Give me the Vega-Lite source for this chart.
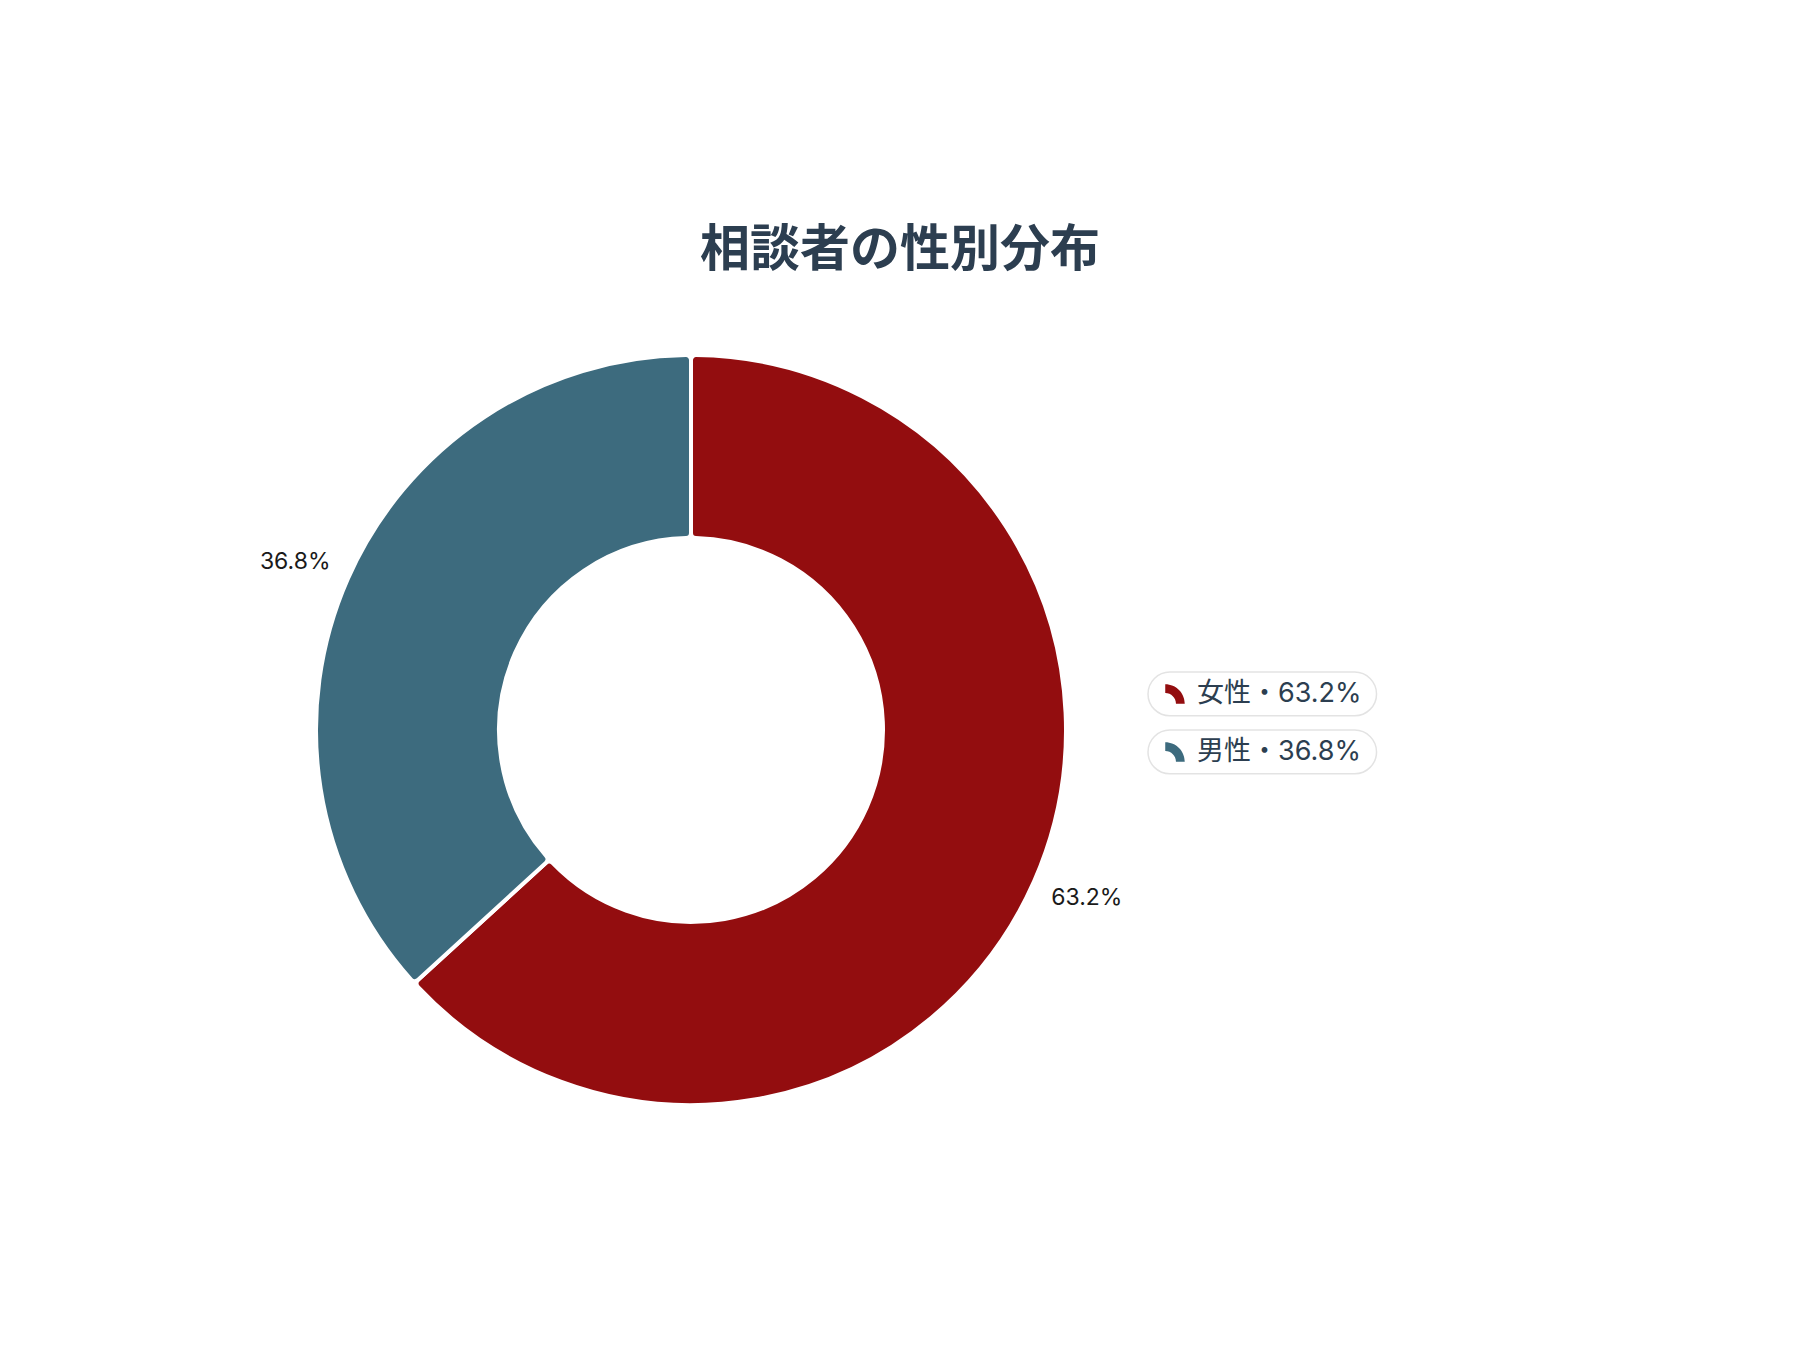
{
  "$schema": "https://vega.github.io/schema/vega-lite/v6.json",
  "autosize": {"type": "none"},
  "width": 800,
  "height": 896,
  "padding": {"left": 291, "top": 282, "right": 709, "bottom": 172},
  "background": "#ffffff",
  "title": {
    "text": "相談者の性別分布",
    "font": "Noto Sans CJK JP",
    "fontSize": 50,
    "fontWeight": "bold",
    "color": "#2c3e50",
    "anchor": "middle",
    "frame": "group",
    "dx": 209,
    "offset": 6
  },
  "data": {
    "values": [
      {"gender": "女性", "share": 0.632, "legend": "女性・63.2%", "order": 1},
      {"gender": "男性", "share": 0.368, "legend": "男性・36.8%", "order": 2}
    ]
  },
  "encoding": {
    "theta": {"field": "share", "type": "quantitative", "stack": true},
    "order": {"field": "order", "type": "quantitative"},
    "color": {
      "field": "legend",
      "type": "nominal",
      "scale": {
        "domain": ["女性・63.2%", "男性・36.8%"],
        "range": ["#930d0f", "#3d6b7e"]
      },
      "legend": {
        "title": null,
        "orient": "none",
        "legendX": 857,
        "legendY": 390,
        "padding": 0,
        "symbolType": "M -1 -1 A 2 2 0 0 1 1 1 L 0.1 1 A 1.1 1.1 0 0 0 -1 -0.1 Z M 20.6 2.16 L 20.6 2.16",
        "symbolSize": 380,
        "symbolStrokeWidth": 0,
        "labelFont": "Inter, Noto Sans CJK JP",
        "labelFontSize": 27,
        "labelLimit": 400,
        "labelColor": "#2c3e50",
        "rowPadding": 14,
        "encoding": {
          "entries": {
            "cornerRadius": {"value": 22},
            "stroke": {"value": "#e3e3e3"},
            "strokeWidth": {"value": 1.5},
            "fill": {"value": "#ffffff"}
          },
          "symbols": {
            "x": {"value": 27},
            "y": {"value": 22}
          },
          "labels": {
            "x": {"value": 49},
            "y": {"value": 22},
            "baseline": {"value": "middle"}
          }
        }
      }
    }
  },
  "layer": [
    {
      "mark": {
        "type": "arc",
        "outerRadius": 375,
        "innerRadius": 192,
        "cornerRadius": 5,
        "stroke": "#ffffff",
        "strokeWidth": 4
      }
    },
    {
      "mark": {
        "type": "text",
        "radius": 430,
        "thetaOffset": -0.013,
        "font": "Inter",
        "fontSize": 23,
        "align": "center",
        "baseline": "middle"
      },
      "encoding": {
        "text": {"field": "share", "type": "quantitative", "format": ".1%"},
        "color": {"value": "#1a1a1a"}
      }
    }
  ],
  "config": {
    "view": {"stroke": null}
  }
}
